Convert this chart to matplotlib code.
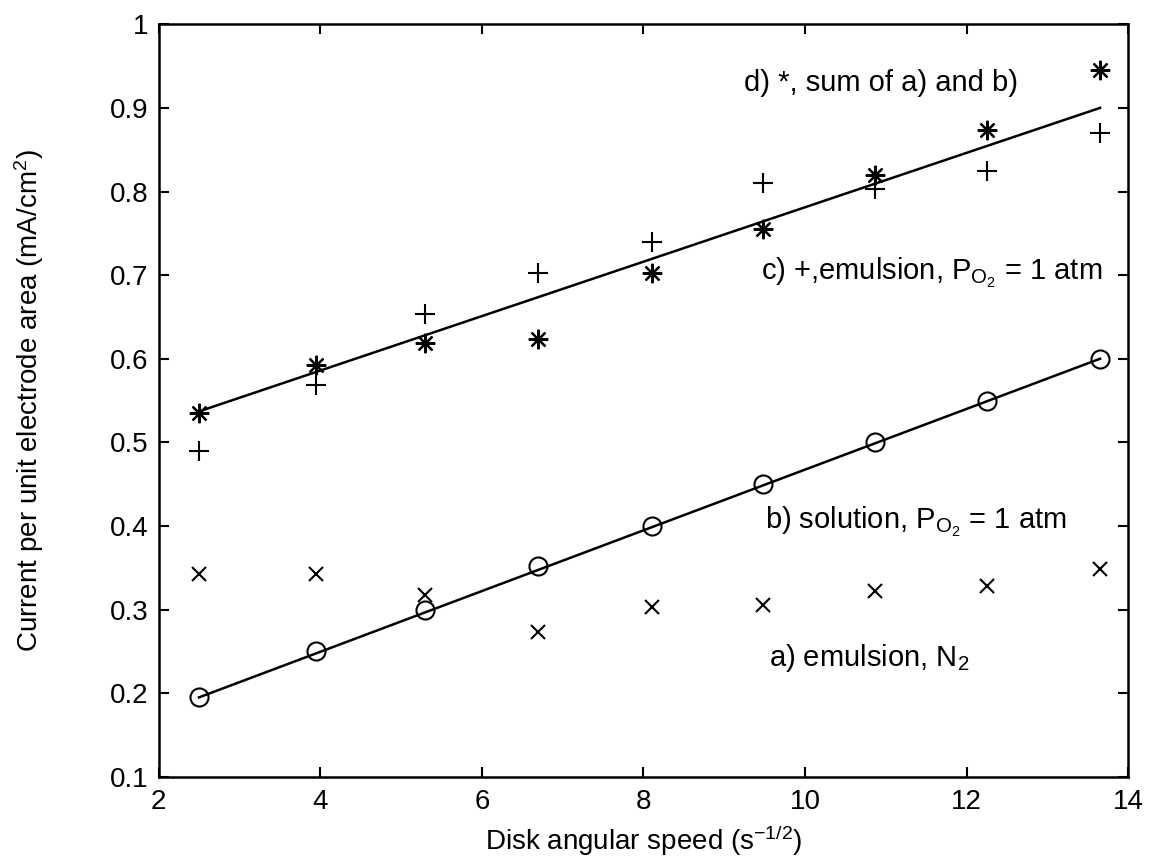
import matplotlib
matplotlib.use("Agg")
import matplotlib.pyplot as plt

plt.rcParams["font.family"] = ["Liberation Sans", "DejaVu Sans"]
plt.rcParams["mathtext.fontset"] = "custom"
plt.rcParams["mathtext.rm"] = "Liberation Sans"
plt.rcParams["mathtext.it"] = "Liberation Sans"

# disk angular speed, s^-1/2
speed = [2.5, 3.95, 5.3, 6.7, 8.1, 9.48, 10.86, 12.25, 13.65]

# current density, mA/cm^2
emul_n2 = [0.342, 0.343, 0.318, 0.273, 0.303, 0.305, 0.322, 0.328, 0.348]
solution_o2 = [0.195, 0.250, 0.300, 0.352, 0.400, 0.450, 0.500, 0.550, 0.600]
emul_o2 = [0.490, 0.569, 0.653, 0.703, 0.740, 0.810, 0.803, 0.825, 0.870]
sum_ab = [0.535, 0.593, 0.619, 0.624, 0.703, 0.755, 0.820, 0.874, 0.945]

# straight-line fits (end points)
fit_x = [2.5, 13.65]
fit_sum = [0.537, 0.900]
fit_solution = [0.195, 0.600]

fig = plt.figure(figsize=(11.49, 8.67), dpi=100)
ax = fig.add_axes([0.138, 0.104, 0.844, 0.868])

ax.plot(fit_x, fit_sum, color="black", lw=1.8)
ax.plot(fit_x, fit_solution, color="black", lw=1.8)

ax.plot(speed, emul_n2, ls="none", marker="x", ms=10, mew=1.5, color="black")
ax.plot(speed, solution_o2, ls="none", marker="o", ms=13, mew=1.5,
        mfc="none", mec="black")
ax.plot(speed, emul_o2, ls="none", marker="+", ms=15, mew=1.5, color="black")
ax.plot(speed, sum_ab, ls="none", marker=(8, 2, 0), ms=14, mew=1.6, color="black")

fs = 21
ax.text(9.25, 0.93, "d) *, sum of a) and b)", fontsize=fs, va="center")
ax.text(9.45, 0.703, r"c) +,emulsion, P$_{\mathrm{O}_2}$ = 1 atm", fontsize=fs, va="center")
ax.text(9.5, 0.405, r"b) solution, P$_{\mathrm{O}_2}$ = 1 atm", fontsize=fs, va="center")
ax.text(9.55, 0.242, r"a) emulsion, N$_2$", fontsize=fs, va="center")

ax.set_xlim(2, 14)
ax.set_ylim(0.1, 1.0)
ax.set_xticks([2, 4, 6, 8, 10, 12, 14])
ax.set_yticks([0.1, 0.2, 0.3, 0.4, 0.5, 0.6, 0.7, 0.8, 0.9, 1.0])
ax.set_yticklabels(["0.1", "0.2", "0.3", "0.4", "0.5", "0.6", "0.7", "0.8", "0.9", "1"])

ax.tick_params(direction="in", length=7, width=1.5, top=True, right=True,
               labelsize=20)
ax.tick_params(axis="x", pad=9)
ax.tick_params(axis="y", pad=7)
for sp in ax.spines.values():
    sp.set_linewidth(1.8)

ax.set_xlabel(r"Disk angular speed (s$^{-1/2}$)", fontsize=20, labelpad=6)
ax.set_ylabel(r"Current per unit electrode area (mA/cm$^2$)", fontsize=20, labelpad=46)

fig.savefig("out.png", dpi=100)
